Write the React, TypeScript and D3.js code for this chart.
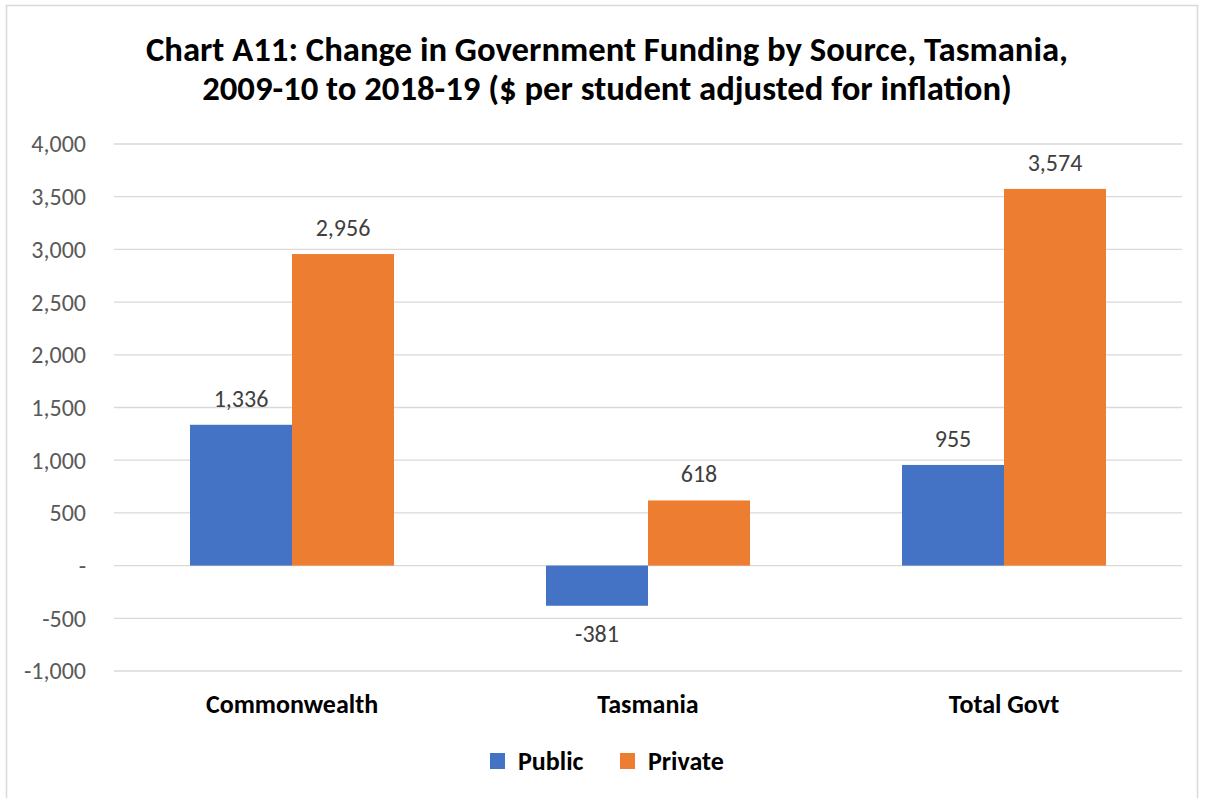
import React from "react";
import * as d3 from "d3";

const categories = ["Commonwealth", "Tasmania", "Total Govt"];
const seriesNames = ["Public", "Private"];
const publicValues = [1336, -381, 955];
const privateValues = [2956, 618, 3574];
const yTicks = [-1000, -500, 0, 500, 1000, 1500, 2000, 2500, 3000, 3500, 4000];
const titleLines = [
  "Chart A11: Change in Government Funding by Source, Tasmania,",
  "2009-10 to 2018-19 ($ per student adjusted for inflation)",
];
const colors = ["#4472C4", "#ED7D31"];

const W = 1205;
const H = 798;
const left = 114;
const right = 1182;
const top = 144;
const bottom = 671;
const font = "Calibri, Carlito, 'Open Sans', sans-serif";

export default function App() {
  const x0 = d3.scaleBand<string>().domain(categories).range([left, right]).paddingInner(0.427).paddingOuter(0.2135);
  const x1 = d3.scaleBand<string>().domain(seriesNames).range([0, x0.bandwidth()]);
  const y = d3.scaleLinear().domain([-1000, 4000]).range([bottom, top]);
  const fmt = (v: number) => (v === 0 ? "-" : d3.format(",")(v).replace("\u2212", "-"));
  const series = [publicValues, privateValues];

  return (
    <svg width={W} height={H} style={{ position: "absolute", left: 0, top: 0, background: "#fff" }}>
      <rect x={6.5} y={5.5} width={1191} height={H + 10} fill="#fff" stroke="#d9d9d9" strokeWidth={1.5} />
      {titleLines.map((t, i) => (
        <text key={i} x={607} y={61 + i * 39} textAnchor="middle" fontFamily={font} fontWeight="bold" fontSize={34.7} fill="#000">
          {t}
        </text>
      ))}
      {yTicks.map((t) => (
        <g key={t}>
          <line x1={left} x2={right} y1={y(t)} y2={y(t)} stroke="#d9d9d9" strokeWidth={1.3} />
          <text x={86} y={y(t)} dy="0.35em" textAnchor="end" fontFamily={font} fontSize={24} fill="#595959">
            {fmt(t)}
          </text>
        </g>
      ))}
      {categories.map((c, ci) => (
        <g key={c}>
          {seriesNames.map((s, si) => {
            const v = series[si][ci];
            const bx = (x0(c) as number) + (x1(s) as number);
            const bw = x1.bandwidth();
            const y0 = y(0);
            const yv = y(v);
            return (
              <g key={s}>
                <rect x={bx} y={Math.min(y0, yv)} width={bw} height={Math.abs(yv - y0)} fill={colors[si]} />
                <text
                  x={bx + bw / 2}
                  y={v >= 0 ? yv - 18 : yv + 36}
                  textAnchor="middle"
                  fontFamily={font}
                  fontSize={24}
                  fill="#404040"
                >
                  {fmt(v)}
                </text>
              </g>
            );
          })}
          <text x={(x0(c) as number) + x0.bandwidth() / 2} y={713} textAnchor="middle" fontFamily={font} fontWeight="bold" fontSize={26} fill="#000">
            {c}
          </text>
        </g>
      ))}
      {seriesNames.map((s, i) => {
        const lx = i === 0 ? 490 : 620;
        return (
          <g key={s}>
            <rect x={lx} y={753} width={15} height={16} fill={colors[i]} />
            <text x={lx + 28} y={770} fontFamily={font} fontWeight="bold" fontSize={26} fill="#000">
              {s}
            </text>
          </g>
        );
      })}
    </svg>
  );
}
